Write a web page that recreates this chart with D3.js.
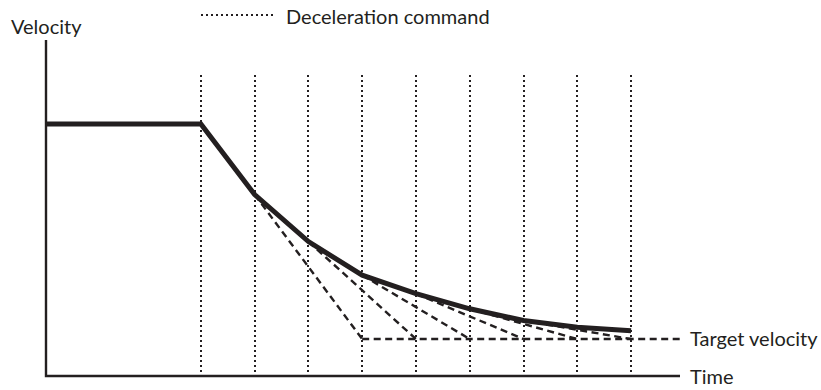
<!DOCTYPE html>
<html>
<head>
  <script src="https://d3js.org/d3.v7.min.js"></script>
  <style>
    body { margin: 0; background: #fff; font-family: Lato, "Noto Sans", sans-serif; }
    .label { fill: #231f20; font-size: 20px; }
  </style>
</head>
<body>
  <div id="chart"></div>
  <script>
    // command instants (index of each dotted vertical line)
    const commandTimes = [0, 1, 2, 3, 4, 5, 6, 7, 8];
    // actual velocity reached at each command instant
    const velocity = [75, 54, 40, 30, 24.5, 20, 16.5, 14.5, 13.5];
    const startTime = -2.88;
    const endTime = 8.91;
    const targetVelocity = 11;
    const targetStart = 3;
    // predicted decel: from command i down to target two commands later
    const decelFrom = [1, 2, 3, 4, 5, 6];
    const decelHorizon = 2;

    const width = 821, height = 390;
    const ink = "#231f20";
    const dots = "2,3";
    const dashes = "7,4.5";

    const svg = d3.select("#chart").append("svg")
      .attr("width", width)
      .attr("height", height);

    const x = d3.scaleLinear().domain([startTime, endTime]).range([46, 680]);
    const y = d3.scaleLinear().domain([0, 100]).range([376, 40]);

    // dotted command lines
    svg.selectAll(".cmd")
      .data(commandTimes)
      .join("line")
        .attr("x1", d => Math.round(x(d))).attr("x2", d => Math.round(x(d)))
        .attr("y1", 75).attr("y2", y(0))
        .attr("stroke", ink)
        .attr("stroke-width", 2)
        .attr("stroke-dasharray", dots);

    // target velocity line
    svg.append("line")
      .attr("x1", x(targetStart)).attr("x2", x(endTime))
      .attr("y1", y(targetVelocity)).attr("y2", y(targetVelocity))
      .attr("stroke", ink)
      .attr("stroke-width", 2.4)
      .attr("stroke-dasharray", dashes);

    // predicted decel lines
    svg.selectAll(".decel")
      .data(decelFrom)
      .join("line")
        .attr("x1", d => x(commandTimes[d]))
        .attr("y1", d => y(velocity[d]))
        .attr("x2", d => x(commandTimes[d + decelHorizon]))
        .attr("y2", y(targetVelocity))
        .attr("stroke", ink)
        .attr("stroke-width", 2.4)
        .attr("stroke-dasharray", dashes);

    // actual velocity profile
    const profile = [[startTime, velocity[0]]].concat(commandTimes.map((t, i) => [t, velocity[i]]));
    svg.append("path")
      .datum(profile)
      .attr("fill", "none")
      .attr("stroke", ink)
      .attr("stroke-width", 5)
      .attr("stroke-linejoin", "miter")
      .attr("d", d3.line().x(d => x(d[0])).y(d => y(d[1])));

    // axes
    svg.append("path")
      .attr("d", `M${x(startTime)},${y(100)}V${y(0)}H${x(endTime)}`)
      .attr("fill", "none")
      .attr("stroke", ink)
      .attr("stroke-width", 2.4);

    svg.append("text").attr("class", "label")
      .attr("x", 11).attr("y", 34).text("Velocity");
    svg.append("text").attr("class", "label")
      .attr("x", 690).attr("y", 384).text("Time");
    svg.append("text").attr("class", "label")
      .attr("x", 690).attr("y", y(targetVelocity) + 7).text("Target velocity");

    // legend
    svg.append("line")
      .attr("x1", 201).attr("x2", 274)
      .attr("y1", 15).attr("y2", 15)
      .attr("stroke", ink)
      .attr("stroke-width", 2)
      .attr("stroke-dasharray", dots);
    svg.append("text").attr("class", "label")
      .attr("x", 286).attr("y", 24).text("Deceleration command");
  </script>
</body>
</html>
